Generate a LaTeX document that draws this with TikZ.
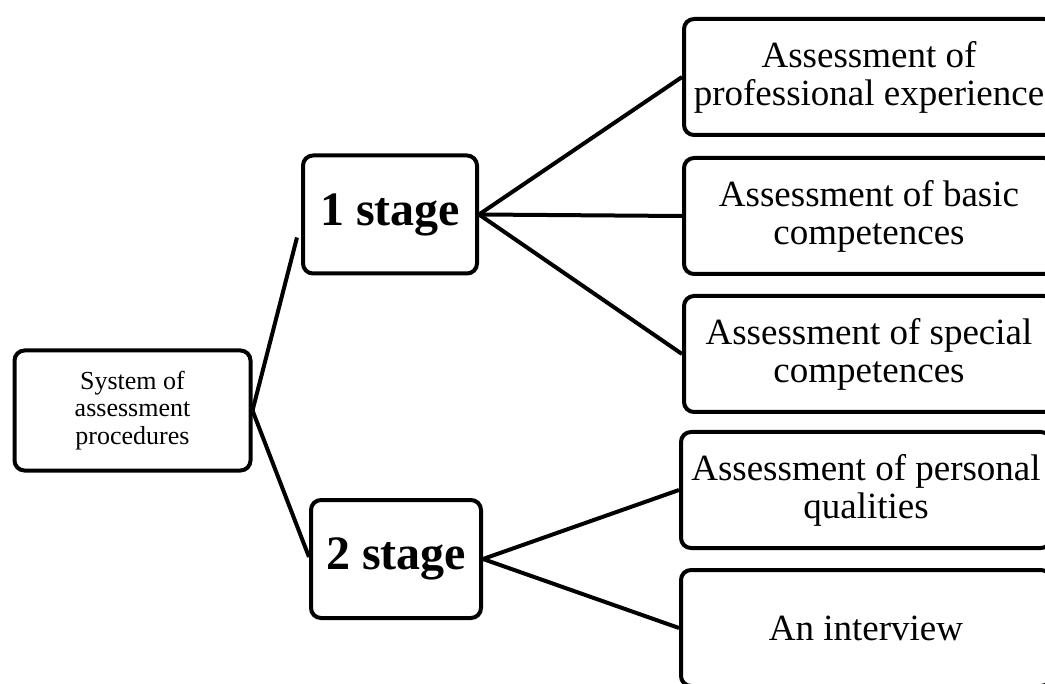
\documentclass[tikz,border=0pt]{standalone}
\usepackage{fontspec}
\setmainfont{Liberation Serif}
\usepackage{tikz}
\usetikzlibrary{positioning, calc}

\begin{document}
\begin{tikzpicture}[
    x=0.5pt, y=-0.5pt,
    box/.style={draw, line width=2pt, rounded corners=5pt, align=center, inner sep=2pt},
    rootbox/.style={box, minimum width=118pt, minimum height=60pt, font=\fontsize{13}{13.8}\selectfont},
    stagebox/.style={box, minimum width=87pt, minimum height=59pt, font=\fontsize{24}{28}\selectfont\bfseries},
    itembox/.style={box, minimum width=185pt, minimum height=58pt, font=\fontsize{18.5}{19}\selectfont},
    link/.style={line width=2pt}
]
    \useasboundingbox (0,0) rectangle (1045,684);
    \clip (0,0) rectangle (1045,684);

    % Root
    \node[rootbox] (root) at (132.5, 410.5) {System of\\assessment\\procedures};

    % Stages
    \node[stagebox] (stage1) at (390, 214.5) {1 stage};
    \node[stagebox, minimum width=85pt] (stage2) at (396, 559) {2 stage};

    % Items of stage 1
    \node[itembox] (exp) at (869, 77) {Assessment of\\professional experience};
    \node[itembox] (basic) at (869, 216) {Assessment of basic\\competences};
    \node[itembox] (special) at (869, 354) {Assessment of special\\competences};

    % Items of stage 2
    \node[itembox] (personal) at (866, 490) {Assessment of personal\\qualities};
    \node[itembox] (interview) at (866, 628) {An interview};

    % Connections
    \draw[link] (root.east) -- ([xshift=-2pt, yshift=-11.5pt]stage1.west);
    \draw[link] (root.east) -- ([yshift=1pt]stage2.west);

    \draw[link] (stage1.east) -- (exp.west);
    \draw[link] (stage1.east) -- (basic.west);
    \draw[link] (stage1.east) -- (special.west);

    \draw[link] (stage2.east) -- (personal.west);
    \draw[link] (stage2.east) -- (interview.west);

\end{tikzpicture}
\end{document}
